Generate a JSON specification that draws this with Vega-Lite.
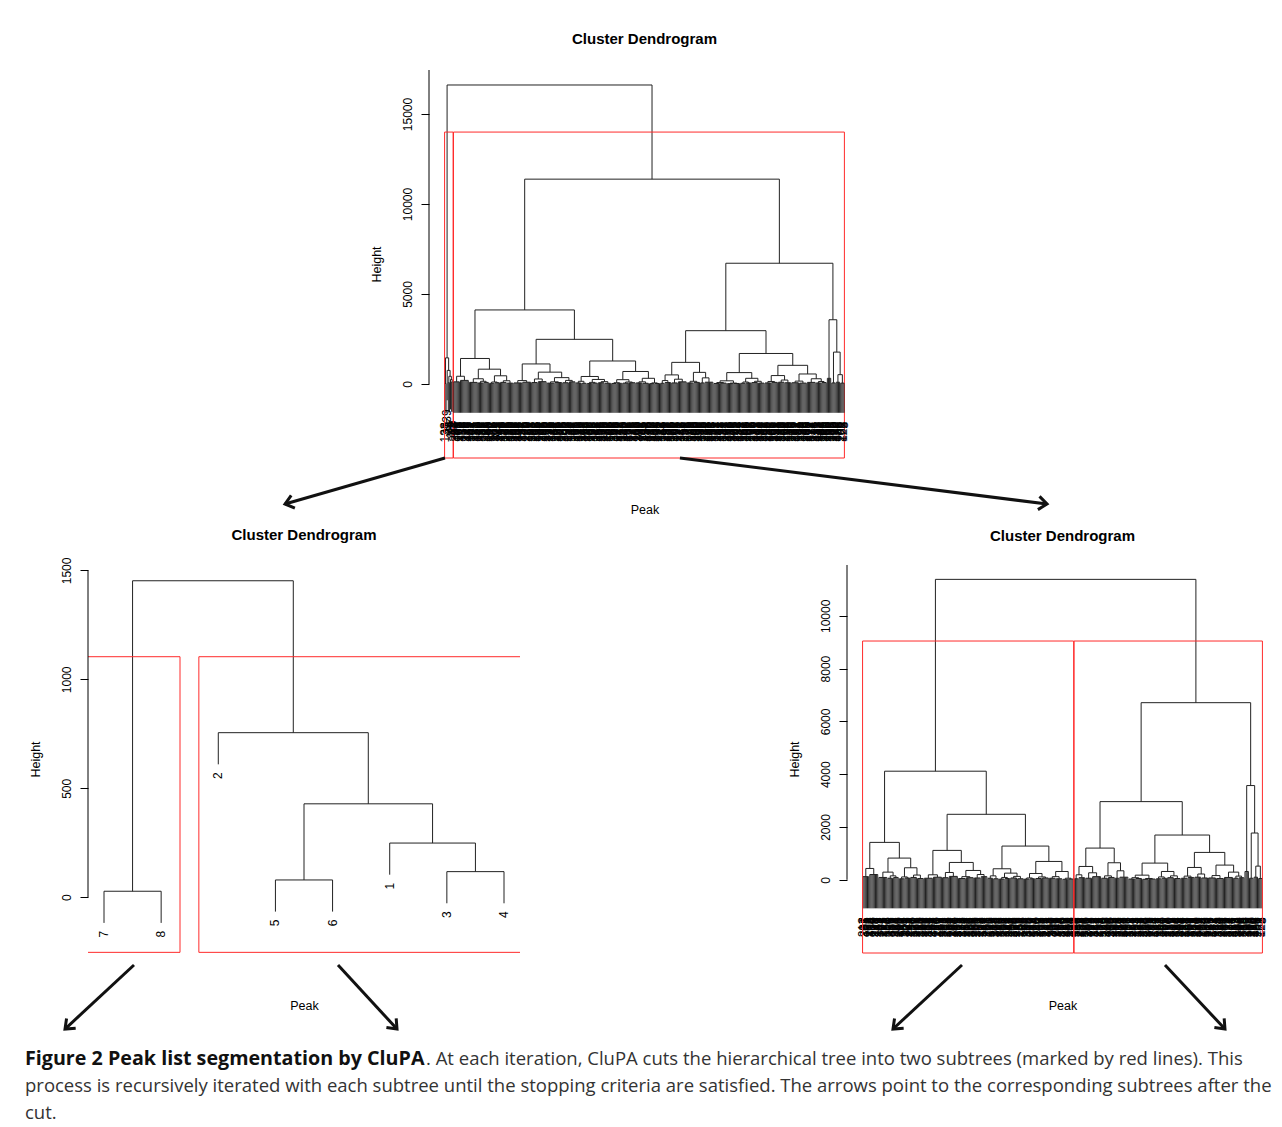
{
"$schema":"https://vega.github.io/schema/vega-lite/v6.json",
"background":"white",
"padding":{"left":25,"top":31,"right":4,"bottom":4},
"spacing":11,
"bounds":"full",
"datasets":{
"sm_m":[
{"a":1,"b":2,"h":27.5,"ha":27.5,"hb":27.5},
{"a":4,"b":5,"h":79.3,"ha":79.3,"hb":79.3},
{"a":7,"b":8,"h":117.5,"ha":117.5,"hb":117.5},
{"a":6,"b":7.5,"h":248.7,"ha":248.7,"hb":117.5},
{"a":4.5,"b":6.75,"h":428.8,"ha":79.3,"hb":248.7},
{"a":3,"b":5.625,"h":755.3,"ha":755.3,"hb":428.8},
{"a":1.5,"b":4.3125,"h":1452.7,"ha":27.5,"hb":755.3}
],
"top_m":[
{"a":1,"b":2,"h":27.5,"ha":27.5,"hb":27.5},
{"a":4,"b":5,"h":79.3,"ha":79.3,"hb":79.3},
{"a":7,"b":8,"h":117.5,"ha":117.5,"hb":117.5},
{"a":6,"b":7.5,"h":248.7,"ha":248.7,"hb":117.5},
{"a":4.5,"b":6.75,"h":428.8,"ha":79.3,"hb":248.7},
{"a":3,"b":5.625,"h":755.3,"ha":755.3,"hb":428.8},
{"a":1.5,"b":4.3125,"h":1452.7,"ha":27.5,"hb":755.3},
{"a":2.90625,"b":187.2734,"h":16611,"ha":1452.7,"hb":11380}
],
"sm_l":[
{"i":1,"h":27.5,"e":-117.8,"et":-1633.5,"l":"7","lt":"138"},
{"i":2,"h":27.5,"e":-117.8,"et":-1633.5,"l":"8","lt":"27"},
{"i":3,"h":755.3,"e":610,"et":-905.7,"l":"2","lt":"139"},
{"i":4,"h":79.3,"e":-66,"et":-1581.7,"l":"5","lt":"23"},
{"i":5,"h":79.3,"e":-66,"et":-1581.7,"l":"6","lt":"24"},
{"i":6,"h":248.7,"e":103.4,"et":-1412.3,"l":"1","lt":"137"},
{"i":7,"h":117.5,"e":-27.8,"et":-1543.5,"l":"3","lt":"25"},
{"i":8,"h":117.5,"e":-27.8,"et":-1543.5,"l":"4","lt":"26"}
],
"bt_m":[
{"a":1,"b":6,"h":120,"ha":120,"hb":120},
{"a":7,"b":14,"h":200,"ha":200,"hb":200},
{"a":15,"b":22,"h":90,"ha":90,"hb":90},
{"a":23,"b":27,"h":60,"ha":60,"hb":60},
{"a":28,"b":32,"h":90,"ha":90,"hb":90},
{"a":25,"b":30,"h":150,"ha":60,"hb":90},
{"a":33,"b":37,"h":40,"ha":40,"hb":40},
{"a":38,"b":42,"h":70,"ha":70,"hb":70},
{"a":35,"b":40,"h":110,"ha":40,"hb":70},
{"a":43,"b":48,"h":90,"ha":90,"hb":90},
{"a":49,"b":54,"h":50,"ha":50,"hb":50},
{"a":45.5,"b":51.5,"h":180,"ha":90,"hb":50},
{"a":55,"b":62,"h":60,"ha":60,"hb":60},
{"a":63,"b":70,"h":100,"ha":100,"hb":100},
{"a":71,"b":76,"h":80,"ha":80,"hb":80},
{"a":77,"b":84,"h":130,"ha":130,"hb":130},
{"a":85,"b":91,"h":50,"ha":50,"hb":50},
{"a":92,"b":98,"h":80,"ha":80,"hb":80},
{"a":88,"b":95,"h":120,"ha":50,"hb":80},
{"a":99,"b":104,"h":70,"ha":70,"hb":70},
{"a":105,"b":110,"h":120,"ha":120,"hb":120},
{"a":101.5,"b":107.5,"h":200,"ha":70,"hb":120},
{"a":111,"b":115,"h":60,"ha":60,"hb":60},
{"a":116,"b":120,"h":40,"ha":40,"hb":40},
{"a":113,"b":118,"h":150,"ha":60,"hb":40},
{"a":121,"b":125,"h":30,"ha":30,"hb":30},
{"a":126,"b":130,"h":50,"ha":50,"hb":50},
{"a":123,"b":128,"h":90,"ha":30,"hb":50},
{"a":131,"b":136,"h":70,"ha":70,"hb":70},
{"a":137,"b":142,"h":40,"ha":40,"hb":40},
{"a":133.5,"b":139.5,"h":130,"ha":70,"hb":40},
{"a":143,"b":147,"h":30,"ha":30,"hb":30},
{"a":148,"b":152,"h":40,"ha":40,"hb":40},
{"a":145,"b":150,"h":70,"ha":30,"hb":40},
{"a":153,"b":158,"h":50,"ha":50,"hb":50},
{"a":159,"b":164,"h":70,"ha":70,"hb":70},
{"a":155.5,"b":161.5,"h":110,"ha":50,"hb":70},
{"a":165,"b":170,"h":60,"ha":60,"hb":60},
{"a":171,"b":176,"h":40,"ha":40,"hb":40},
{"a":167.5,"b":173.5,"h":120,"ha":60,"hb":40},
{"a":177,"b":181,"h":20,"ha":20,"hb":20},
{"a":182,"b":186,"h":30,"ha":30,"hb":30},
{"a":179,"b":184,"h":60,"ha":20,"hb":30},
{"a":187,"b":190,"h":40,"ha":40,"hb":40},
{"a":191,"b":196,"h":80,"ha":80,"hb":80},
{"a":197,"b":202,"h":60,"ha":60,"hb":60},
{"a":203,"b":210,"h":120,"ha":120,"hb":120},
{"a":211,"b":216,"h":60,"ha":60,"hb":60},
{"a":217,"b":222,"h":90,"ha":90,"hb":90},
{"a":213.5,"b":219.5,"h":150,"ha":60,"hb":90},
{"a":223,"b":226,"h":60,"ha":60,"hb":60},
{"a":227,"b":234,"h":100,"ha":100,"hb":100},
{"a":235,"b":240,"h":30,"ha":30,"hb":30},
{"a":241,"b":246,"h":50,"ha":50,"hb":50},
{"a":237.5,"b":243.5,"h":80,"ha":30,"hb":50},
{"a":247,"b":252,"h":20,"ha":20,"hb":20},
{"a":253,"b":258,"h":30,"ha":30,"hb":30},
{"a":249.5,"b":255.5,"h":50,"ha":20,"hb":30},
{"a":259,"b":263,"h":40,"ha":40,"hb":40},
{"a":264,"b":268,"h":60,"ha":60,"hb":60},
{"a":261,"b":266,"h":110,"ha":40,"hb":60},
{"a":269,"b":274,"h":80,"ha":80,"hb":80},
{"a":275,"b":280,"h":50,"ha":50,"hb":50},
{"a":271.5,"b":277.5,"h":150,"ha":80,"hb":50},
{"a":281,"b":286,"h":60,"ha":60,"hb":60},
{"a":287,"b":292,"h":90,"ha":90,"hb":90},
{"a":283.5,"b":289.5,"h":140,"ha":60,"hb":90},
{"a":293,"b":298,"h":100,"ha":100,"hb":100},
{"a":299,"b":304,"h":70,"ha":70,"hb":70},
{"a":295.5,"b":301.5,"h":220,"ha":100,"hb":70},
{"a":305,"b":311,"h":70,"ha":70,"hb":70},
{"a":312,"b":318,"h":50,"ha":50,"hb":50},
{"a":308,"b":315,"h":160,"ha":70,"hb":50},
{"a":319,"b":326,"h":90,"ha":90,"hb":90},
{"a":327,"b":331,"h":60,"ha":60,"hb":60},
{"a":332,"b":336,"h":80,"ha":80,"hb":80},
{"a":329,"b":334,"h":140,"ha":60,"hb":80},
{"a":337,"b":340,"h":316,"ha":316,"hb":316},
{"a":341,"b":344,"h":60,"ha":60,"hb":60},
{"a":345,"b":348,"h":100,"ha":100,"hb":100},
{"a":349,"b":352,"h":50,"ha":50,"hb":50},
{"a":3.5,"b":10.5,"h":430,"ha":120,"hb":200},
{"a":18.5,"b":27.5,"h":291,"ha":90,"hb":150},
{"a":37.5,"b":48.5,"h":456,"ha":110,"hb":180},
{"a":23,"b":43,"h":823,"ha":291,"hb":456},
{"a":7,"b":33,"h":1418,"ha":430,"hb":823},
{"a":58.5,"b":66.5,"h":190,"ha":60,"hb":100},
{"a":73.5,"b":80.5,"h":278,"ha":80,"hb":130},
{"a":91.5,"b":104.5,"h":354,"ha":120,"hb":200},
{"a":77,"b":98,"h":658,"ha":278,"hb":354},
{"a":62.5,"b":87.5,"h":1114,"ha":190,"hb":658},
{"a":125.5,"b":136.5,"h":253,"ha":90,"hb":130},
{"a":115.5,"b":131,"h":418,"ha":150,"hb":253},
{"a":147.5,"b":158.5,"h":240,"ha":70,"hb":110},
{"a":170.5,"b":181.5,"h":316,"ha":120,"hb":60},
{"a":153,"b":176,"h":696,"ha":240,"hb":316},
{"a":123.25,"b":164.5,"h":1278,"ha":418,"hb":696},
{"a":75,"b":143.875,"h":2481,"ha":1114,"hb":1278},
{"a":20,"b":109.4375,"h":4114,"ha":1418,"hb":2481},
{"a":188.5,"b":193.5,"h":190,"ha":40,"hb":80},
{"a":199.5,"b":206.5,"h":266,"ha":60,"hb":120},
{"a":191,"b":203,"h":506,"ha":190,"hb":266},
{"a":224.5,"b":230.5,"h":342,"ha":60,"hb":100},
{"a":216.5,"b":227.5,"h":646,"ha":150,"hb":342},
{"a":197,"b":222,"h":1202,"ha":506,"hb":646},
{"a":240.5,"b":252.5,"h":177,"ha":80,"hb":50},
{"a":263.5,"b":274.5,"h":316,"ha":110,"hb":150},
{"a":246.5,"b":269,"h":633,"ha":177,"hb":316},
{"a":286.5,"b":298.5,"h":468,"ha":140,"hb":220},
{"a":322.5,"b":331.5,"h":291,"ha":90,"hb":140},
{"a":311.5,"b":327,"h":557,"ha":160,"hb":291},
{"a":292.5,"b":319.25,"h":1038,"ha":468,"hb":557},
{"a":257.75,"b":305.875,"h":1696,"ha":633,"hb":1038},
{"a":209.5,"b":281.8125,"h":2962,"ha":1202,"hb":1696},
{"a":346.5,"b":350.5,"h":519,"ha":100,"hb":50},
{"a":342.5,"b":348.5,"h":1772,"ha":60,"hb":519},
{"a":338.5,"b":345.5,"h":3570,"ha":316,"hb":1772},
{"a":245.65625,"b":342,"h":6709,"ha":2962,"hb":3570},
{"a":64.71875,"b":293.828125,"h":11380,"ha":4114,"hb":6709}
],
"bt_l":[
{"i":1,"h":120,"l":212},{"i":2,"h":120,"l":87},{"i":3,"h":120,"l":301},{"i":4,"h":120,"l":45},{"i":5,"h":120,"l":178},{"i":6,"h":120,"l":263},
{"i":7,"h":200,"l":9},{"i":8,"h":200,"l":334},{"i":9,"h":200,"l":156},{"i":10,"h":200,"l":72},{"i":11,"h":200,"l":290},{"i":12,"h":200,"l":118},{"i":13,"h":200,"l":241},{"i":14,"h":200,"l":33},
{"i":15,"h":90,"l":199},{"i":16,"h":90,"l":347},{"i":17,"h":90,"l":64},{"i":18,"h":90,"l":127},{"i":19,"h":90,"l":275},{"i":20,"h":90,"l":181},{"i":21,"h":90,"l":52},{"i":22,"h":90,"l":316},
{"i":23,"h":60,"l":140},{"i":24,"h":60,"l":229},{"i":25,"h":60,"l":96},{"i":26,"h":60,"l":358},{"i":27,"h":60,"l":17},
{"i":28,"h":90,"l":203},{"i":29,"h":90,"l":111},{"i":30,"h":90,"l":284},{"i":31,"h":90,"l":69},{"i":32,"h":90,"l":245},
{"i":33,"h":40,"l":150},{"i":34,"h":40,"l":327},{"i":35,"h":40,"l":38},{"i":36,"h":40,"l":186},{"i":37,"h":40,"l":259},
{"i":38,"h":70,"l":104},{"i":39,"h":70,"l":311},{"i":40,"h":70,"l":75},{"i":41,"h":70,"l":222},{"i":42,"h":70,"l":143},
{"i":43,"h":90,"l":298},{"i":44,"h":90,"l":56},{"i":45,"h":90,"l":170},{"i":46,"h":90,"l":337},{"i":47,"h":90,"l":121},{"i":48,"h":90,"l":266},
{"i":49,"h":50,"l":91},{"i":50,"h":50,"l":215},{"i":51,"h":50,"l":30},{"i":52,"h":50,"l":352},{"i":53,"h":50,"l":162},{"i":54,"h":50,"l":280},
{"i":55,"h":60,"l":48},{"i":56,"h":60,"l":193},{"i":57,"h":60,"l":237},{"i":58,"h":60,"l":114},{"i":59,"h":60,"l":306},{"i":60,"h":60,"l":81},{"i":61,"h":60,"l":254},{"i":62,"h":60,"l":133},
{"i":63,"h":100,"l":342},{"i":64,"h":100,"l":26},{"i":65,"h":100,"l":175},{"i":66,"h":100,"l":220},{"i":67,"h":100,"l":99},{"i":68,"h":100,"l":289},{"i":69,"h":100,"l":61},{"i":70,"h":100,"l":148},
{"i":71,"h":80,"l":323},{"i":72,"h":80,"l":207},{"i":73,"h":80,"l":12},{"i":74,"h":80,"l":268},{"i":75,"h":80,"l":135},{"i":76,"h":80,"l":355},
{"i":77,"h":130,"l":84},{"i":78,"h":130,"l":191},{"i":79,"h":130,"l":247},{"i":80,"h":130,"l":108},{"i":81,"h":130,"l":296},{"i":82,"h":130,"l":40},{"i":83,"h":130,"l":166},{"i":84,"h":130,"l":231},
{"i":85,"h":50,"l":318},{"i":86,"h":50,"l":73},{"i":87,"h":50,"l":258},{"i":88,"h":50,"l":125},{"i":89,"h":50,"l":344},{"i":90,"h":50,"l":19},{"i":91,"h":50,"l":184},
{"i":92,"h":80,"l":271},{"i":93,"h":80,"l":102},{"i":94,"h":80,"l":226},{"i":95,"h":80,"l":59},{"i":96,"h":80,"l":309},{"i":97,"h":80,"l":146},{"i":98,"h":80,"l":283},
{"i":99,"h":70,"l":36},{"i":100,"h":70,"l":201},{"i":101,"h":70,"l":340},{"i":102,"h":70,"l":93},{"i":103,"h":70,"l":257},{"i":104,"h":70,"l":129},
{"i":105,"h":120,"l":4},{"i":106,"h":120,"l":190},{"i":107,"h":120,"l":314},{"i":108,"h":120,"l":67},{"i":109,"h":120,"l":235},{"i":110,"h":120,"l":161},
{"i":111,"h":60,"l":286},{"i":112,"h":60,"l":21},{"i":113,"h":60,"l":173},{"i":114,"h":60,"l":330},{"i":115,"h":60,"l":115},
{"i":116,"h":40,"l":244},{"i":117,"h":40,"l":78},{"i":118,"h":40,"l":302},{"i":119,"h":40,"l":154},{"i":120,"h":40,"l":219},
{"i":121,"h":30,"l":47},{"i":122,"h":30,"l":350},{"i":123,"h":30,"l":138},{"i":124,"h":30,"l":262},{"i":125,"h":30,"l":89},
{"i":126,"h":50,"l":196},{"i":127,"h":50,"l":321},{"i":128,"h":50,"l":14},{"i":129,"h":50,"l":248},{"i":130,"h":50,"l":167},
{"i":131,"h":70,"l":294},{"i":132,"h":70,"l":53},{"i":133,"h":70,"l":209},{"i":134,"h":70,"l":336},{"i":135,"h":70,"l":119},{"i":136,"h":70,"l":276},
{"i":137,"h":40,"l":85},{"i":138,"h":40,"l":232},{"i":139,"h":40,"l":157},{"i":140,"h":40,"l":29},{"i":141,"h":40,"l":305},{"i":142,"h":40,"l":180},
{"i":143,"h":30,"l":63},{"i":144,"h":30,"l":252},{"i":145,"h":30,"l":126},{"i":146,"h":30,"l":345},{"i":147,"h":30,"l":98},
{"i":148,"h":40,"l":217},{"i":149,"h":40,"l":279},{"i":150,"h":40,"l":42},{"i":151,"h":40,"l":164},{"i":152,"h":40,"l":328},
{"i":153,"h":50,"l":110},{"i":154,"h":50,"l":240},{"i":155,"h":50,"l":7},{"i":156,"h":50,"l":292},{"i":157,"h":50,"l":136},{"i":158,"h":50,"l":198},
{"i":159,"h":70,"l":357},{"i":160,"h":70,"l":71},{"i":161,"h":70,"l":225},{"i":162,"h":70,"l":149},{"i":163,"h":70,"l":313},{"i":164,"h":70,"l":35},
{"i":165,"h":60,"l":188},{"i":166,"h":60,"l":267},{"i":167,"h":60,"l":100},{"i":168,"h":60,"l":339},{"i":169,"h":60,"l":58},{"i":170,"h":60,"l":211},
{"i":171,"h":40,"l":145},{"i":172,"h":40,"l":299},{"i":173,"h":40,"l":24},{"i":174,"h":40,"l":253},{"i":175,"h":40,"l":172},{"i":176,"h":40,"l":326},
{"i":177,"h":20,"l":90},{"i":178,"h":20,"l":238},{"i":179,"h":20,"l":117},{"i":180,"h":20,"l":287},{"i":181,"h":20,"l":50},
{"i":182,"h":30,"l":204},{"i":183,"h":30,"l":348},{"i":184,"h":30,"l":131},{"i":185,"h":30,"l":270},{"i":186,"h":30,"l":11},
{"i":187,"h":40,"l":183},{"i":188,"h":40,"l":317},{"i":189,"h":40,"l":66},{"i":190,"h":40,"l":249},
{"i":191,"h":80,"l":152},{"i":192,"h":80,"l":293},{"i":193,"h":80,"l":39},{"i":194,"h":80,"l":227},{"i":195,"h":80,"l":106},{"i":196,"h":80,"l":335},
{"i":197,"h":60,"l":79},{"i":198,"h":60,"l":260},{"i":199,"h":60,"l":141},{"i":200,"h":60,"l":308},{"i":201,"h":60,"l":27},{"i":202,"h":60,"l":195},
{"i":203,"h":120,"l":272},{"i":204,"h":120,"l":123},{"i":205,"h":120,"l":349},{"i":206,"h":120,"l":57},{"i":207,"h":120,"l":214},{"i":208,"h":120,"l":159},{"i":209,"h":120,"l":282},{"i":210,"h":120,"l":2},
{"i":211,"h":60,"l":176},{"i":212,"h":60,"l":320},{"i":213,"h":60,"l":95},{"i":214,"h":60,"l":243},{"i":215,"h":60,"l":132},{"i":216,"h":60,"l":300},
{"i":217,"h":90,"l":46},{"i":218,"h":90,"l":205},{"i":219,"h":90,"l":360},{"i":220,"h":90,"l":112},{"i":221,"h":90,"l":265},{"i":222,"h":90,"l":83},
{"i":223,"h":60,"l":189},{"i":224,"h":60,"l":325},{"i":225,"h":60,"l":16},{"i":226,"h":60,"l":234},
{"i":227,"h":100,"l":151},{"i":228,"h":100,"l":278},{"i":229,"h":100,"l":68},{"i":230,"h":100,"l":218},{"i":231,"h":100,"l":341},{"i":232,"h":100,"l":103},{"i":233,"h":100,"l":256},{"i":234,"h":100,"l":37},
{"i":235,"h":30,"l":171},{"i":236,"h":30,"l":312},{"i":237,"h":30,"l":128},{"i":238,"h":30,"l":251},{"i":239,"h":30,"l":92},{"i":240,"h":30,"l":295},
{"i":241,"h":50,"l":54},{"i":242,"h":50,"l":197},{"i":243,"h":50,"l":331},{"i":244,"h":50,"l":144},{"i":245,"h":50,"l":273},{"i":246,"h":50,"l":22},
{"i":247,"h":20,"l":208},{"i":248,"h":20,"l":353},{"i":249,"h":20,"l":116},{"i":250,"h":20,"l":239},{"i":251,"h":20,"l":76},{"i":252,"h":20,"l":303},
{"i":253,"h":30,"l":165},{"i":254,"h":30,"l":285},{"i":255,"h":30,"l":41},{"i":256,"h":30,"l":223},{"i":257,"h":30,"l":134},{"i":258,"h":30,"l":319},
{"i":259,"h":40,"l":8},{"i":260,"h":40,"l":182},{"i":261,"h":40,"l":261},{"i":262,"h":40,"l":97},{"i":263,"h":40,"l":343},
{"i":264,"h":60,"l":160},{"i":265,"h":60,"l":230},{"i":266,"h":60,"l":31},{"i":267,"h":60,"l":192},{"i":268,"h":60,"l":297},
{"i":269,"h":80,"l":70},{"i":270,"h":80,"l":250},{"i":271,"h":80,"l":139},{"i":272,"h":80,"l":322},{"i":273,"h":80,"l":15},{"i":274,"h":80,"l":213},
{"i":275,"h":50,"l":107},{"i":276,"h":50,"l":354},{"i":277,"h":50,"l":86},{"i":278,"h":50,"l":242},{"i":279,"h":50,"l":168},{"i":280,"h":50,"l":307},
{"i":281,"h":60,"l":44},{"i":282,"h":60,"l":216},{"i":283,"h":60,"l":281},{"i":284,"h":60,"l":124},{"i":285,"h":60,"l":338},{"i":286,"h":60,"l":62},
{"i":287,"h":90,"l":187},{"i":288,"h":90,"l":269},{"i":289,"h":90,"l":101},{"i":290,"h":90,"l":329},{"i":291,"h":90,"l":153},{"i":292,"h":90,"l":224},
{"i":293,"h":100,"l":28},{"i":294,"h":100,"l":291},{"i":295,"h":100,"l":120},{"i":296,"h":100,"l":346},{"i":297,"h":100,"l":74},{"i":298,"h":100,"l":202},
{"i":299,"h":70,"l":158},{"i":300,"h":70,"l":264},{"i":301,"h":70,"l":3},{"i":302,"h":70,"l":179},{"i":303,"h":70,"l":315},{"i":304,"h":70,"l":109},
{"i":305,"h":70,"l":236},{"i":306,"h":70,"l":65},{"i":307,"h":70,"l":277},{"i":308,"h":70,"l":142},{"i":309,"h":70,"l":351},{"i":310,"h":70,"l":23},{"i":311,"h":70,"l":194},
{"i":312,"h":50,"l":255},{"i":313,"h":50,"l":94},{"i":314,"h":50,"l":332},{"i":315,"h":50,"l":130},{"i":316,"h":50,"l":246},{"i":317,"h":50,"l":51},{"i":318,"h":50,"l":288},
{"i":319,"h":90,"l":169},{"i":320,"h":90,"l":210},{"i":321,"h":90,"l":77},{"i":322,"h":90,"l":324},{"i":323,"h":90,"l":137},{"i":324,"h":90,"l":274},{"i":325,"h":90,"l":18},{"i":326,"h":90,"l":221},
{"i":327,"h":60,"l":359},{"i":328,"h":60,"l":113},{"i":329,"h":60,"l":233},{"i":330,"h":60,"l":82},{"i":331,"h":60,"l":304},
{"i":332,"h":80,"l":147},{"i":333,"h":80,"l":200},{"i":334,"h":80,"l":43},{"i":335,"h":80,"l":310},{"i":336,"h":80,"l":163},
{"i":337,"h":316,"l":255},{"i":338,"h":316,"l":60},{"i":339,"h":316,"l":185},{"i":340,"h":316,"l":333},
{"i":341,"h":60,"l":105},{"i":342,"h":60,"l":228},{"i":343,"h":60,"l":10},{"i":344,"h":60,"l":290},
{"i":345,"h":100,"l":174},{"i":346,"h":100,"l":356},{"i":347,"h":100,"l":88},{"i":348,"h":100,"l":206},
{"i":349,"h":50,"l":1},{"i":350,"h":50,"l":268},{"i":351,"h":50,"l":122},{"i":352,"h":50,"l":5}
],
"top_box":[{"x":0.66,"x2":8.33,"y":-4111,"y2":13995.5},{"x":8.66,"x2":360.33,"y":-4111,"y2":13995.5}],
"bl_box":[{"x":0.66,"x2":2.33,"y":-253,"y2":1104},{"x":2.66,"x2":8.33,"y":-253,"y2":1104}],
"br_box":[{"x":0.66,"x2":186.33,"y":-2772,"y2":9044.5},{"x":186.66,"x2":352.33,"y":-2772,"y2":9044.5}],
"top_axis":[{"y":0,"y2":17444}],
"bl_axis":[{"y":0,"y2":1500}],
"br_axis":[{"y":0,"y2":11924}],
"top_arrow":[{"x":1.03,"y":-4111,"x2":-142.9,"y2":-6667,"dir":"left"},{"x":212.4,"y":-4111,"x2":542.6,"y2":-6667,"dir":"right"}],
"bl_arrow":[{"x":1.525,"y":-311,"x2":0.3175,"y2":-605,"dir":"left"},{"x":5.095,"y":-311,"x2":6.1275,"y2":-605,"dir":"right"}],
"br_arrow":[{"x":88.1,"y":-3227,"x2":27.4,"y2":-5651,"dir":"left"},{"x":266.65,"y":-3227,"x2":319.4,"y2":-5651,"dir":"right"}],
"caption":[
{"line":1,"seg":"bold","text":"Figure 2 Peak list segmentation by CluPA"},
{"line":1,"seg":"tail","text":". At each iteration, CluPA cuts the hierarchical tree into two subtrees (marked by red lines). This"},
{"line":2,"seg":"body","text":"process is recursively iterated with each subtree until the stopping criteria are satisfied. The arrows point to the corresponding subtrees after the"},
{"line":3,"seg":"body","text":"cut."}
]
},
"vconcat":[
{"hconcat":[
 {"width":1,"height":1,"data":{"values":[]},"mark":"point"},
 {"width":431,"height":388,"title":"Cluster Dendrogram",
  "layer":[
   {"layer":[
    {"data":{"name":"top_m"},"mark":{"type":"rule","color":"#222","strokeWidth":1},
     "encoding":{"x":{"field":"a","type":"quantitative","scale":{"domain":[-13.36,374.36],"nice":false,"zero":false},"axis":{"title":"Peak"}},"x2":{"field":"b"},
      "y":{"field":"h","type":"quantitative","scale":{"domain":[-4111,17444],"nice":false,"zero":false},"axis":{"title":"Height","values":[0,5000,10000,15000],"format":"d"}}}},
    {"data":{"name":"top_m"},"mark":{"type":"rule","color":"#222","strokeWidth":1},
     "encoding":{"x":{"field":"a","type":"quantitative"},"y":{"field":"ha","type":"quantitative"},"y2":{"field":"h"}}},
    {"data":{"name":"top_m"},"mark":{"type":"rule","color":"#222","strokeWidth":1},
     "encoding":{"x":{"field":"b","type":"quantitative"},"y":{"field":"hb","type":"quantitative"},"y2":{"field":"h"}}},
    {"data":{"name":"sm_l"},"mark":{"type":"rule","color":"#222","strokeWidth":1},
     "encoding":{"x":{"field":"i","type":"quantitative"},"y":{"field":"h","type":"quantitative"},"y2":{"field":"et"}}},
    {"data":{"name":"sm_l"},"mark":{"type":"text","angle":270,"align":"right","baseline":"middle","dx":-9,"font":"Liberation Sans","fontSize":12,"color":"#000"},
     "encoding":{"x":{"field":"i","type":"quantitative"},"y":{"field":"et","type":"quantitative"},"text":{"field":"lt"}}},
    {"data":{"name":"top_box"},"mark":{"type":"rect","filled":false,"color":"#ff2b2b","strokeWidth":1},
     "encoding":{"x":{"field":"x","type":"quantitative"},"x2":{"field":"x2"},"y":{"field":"y","type":"quantitative"},"y2":{"field":"y2"}}},
    {"data":{"name":"top_axis"},"mark":{"type":"rule","color":"#000","strokeWidth":1},
     "encoding":{"x":{"datum":-13.36},"y":{"field":"y","type":"quantitative"},"y2":{"field":"y2"}}},
    {"data":{"name":"top_arrow"},"mark":{"type":"rule","color":"#111","strokeWidth":3},
     "encoding":{"x":{"field":"x","type":"quantitative"},"x2":{"field":"x2"},"y":{"field":"y","type":"quantitative"},"y2":{"field":"y2"}}},
    {"data":{"name":"top_arrow"},"transform":[{"filter":"datum.dir == 'left'"}],"mark":{"type":"point","shape":"M-1,-0.8L0,0L-1,0.8","filled":false,"color":"#111","strokeWidth":3,"size":280,"opacity":1,"angle":164},
     "encoding":{"x":{"field":"x2","type":"quantitative"},"y":{"field":"y2","type":"quantitative"}}},
    {"data":{"name":"top_arrow"},"transform":[{"filter":"datum.dir == 'right'"}],"mark":{"type":"point","shape":"M-1,-0.8L0,0L-1,0.8","filled":false,"color":"#111","strokeWidth":3,"size":280,"opacity":1,"angle":7},
     "encoding":{"x":{"field":"x2","type":"quantitative"},"y":{"field":"y2","type":"quantitative"}}}
   ]},
   {"layer":[
    {"data":{"name":"bt_m"},"mark":{"type":"rule","color":"#222","strokeWidth":1},
     "encoding":{"x":{"field":"a","type":"quantitative","scale":{"domain":[-21.36,366.36],"nice":false,"zero":false},"axis":null},"x2":{"field":"b"},"y":{"field":"h","type":"quantitative"}}},
    {"data":{"name":"bt_m"},"mark":{"type":"rule","color":"#222","strokeWidth":1},
     "encoding":{"x":{"field":"a","type":"quantitative","axis":null},"y":{"field":"ha","type":"quantitative"},"y2":{"field":"h"}}},
    {"data":{"name":"bt_m"},"mark":{"type":"rule","color":"#222","strokeWidth":1},
     "encoding":{"x":{"field":"b","type":"quantitative","axis":null},"y":{"field":"hb","type":"quantitative"},"y2":{"field":"h"}}},
    {"data":{"name":"bt_l"},"mark":{"type":"rule","color":"#222","strokeWidth":1},
     "encoding":{"x":{"field":"i","type":"quantitative","axis":null},"y":{"field":"h","type":"quantitative"},"y2":{"datum":-1600}}},
    {"data":{"name":"bt_l"},"mark":{"type":"text","angle":270,"align":"right","baseline":"middle","dx":-9,"font":"Liberation Sans","fontSize":12,"color":"#000"},
     "encoding":{"x":{"field":"i","type":"quantitative","axis":null},"y":{"datum":-1600},"text":{"field":"l","type":"nominal"}}}
   ]}
  ],
  "resolve":{"scale":{"x":"independent"}}
 }
],"spacing":403,"bounds":"flush"},
{"hconcat":[
 {"width":1,"height":1,"data":{"values":[]},"mark":"point"},
 {"hconcat":[
  {"width":432,"height":388,"title":{"text":"Cluster Dendrogram","offset":14.5},
   "layer":[
    {"data":{"name":"sm_m"},"mark":{"type":"rule","color":"#222","strokeWidth":1},
     "encoding":{"x":{"field":"a","type":"quantitative","scale":{"domain":[0.72,8.28],"nice":false,"zero":false},"axis":{"title":"Peak","titlePadding":46.5}},"x2":{"field":"b"},
      "y":{"field":"h","type":"quantitative","scale":{"domain":[-256,1525],"nice":false,"zero":false},"axis":{"title":"Height","values":[0,500,1000,1500],"format":"d"}}}},
    {"data":{"name":"sm_m"},"mark":{"type":"rule","color":"#222","strokeWidth":1},
     "encoding":{"x":{"field":"a","type":"quantitative"},"y":{"field":"ha","type":"quantitative"},"y2":{"field":"h"}}},
    {"data":{"name":"sm_m"},"mark":{"type":"rule","color":"#222","strokeWidth":1},
     "encoding":{"x":{"field":"b","type":"quantitative"},"y":{"field":"hb","type":"quantitative"},"y2":{"field":"h"}}},
    {"data":{"name":"sm_l"},"mark":{"type":"rule","color":"#222","strokeWidth":1},
     "encoding":{"x":{"field":"i","type":"quantitative"},"y":{"field":"h","type":"quantitative"},"y2":{"field":"e"}}},
    {"data":{"name":"sm_l"},"mark":{"type":"text","angle":270,"align":"right","baseline":"middle","dx":-8,"font":"Liberation Sans","fontSize":12,"color":"#000"},
     "encoding":{"x":{"field":"i","type":"quantitative"},"y":{"field":"e","type":"quantitative"},"text":{"field":"l"}}},
    {"data":{"name":"bl_box"},"mark":{"type":"rect","filled":false,"color":"#ff2b2b","strokeWidth":1,"clip":true},
     "encoding":{"x":{"field":"x","type":"quantitative"},"x2":{"field":"x2"},"y":{"field":"y","type":"quantitative"},"y2":{"field":"y2"}}},
    {"data":{"name":"bl_axis"},"mark":{"type":"rule","color":"#000","strokeWidth":1},
     "encoding":{"x":{"datum":0.72},"y":{"field":"y","type":"quantitative"},"y2":{"field":"y2"}}},
    {"data":{"name":"bl_arrow"},"mark":{"type":"rule","color":"#111","strokeWidth":3},
     "encoding":{"x":{"field":"x","type":"quantitative"},"x2":{"field":"x2"},"y":{"field":"y","type":"quantitative"},"y2":{"field":"y2"}}},
    {"data":{"name":"bl_arrow"},"transform":[{"filter":"datum.dir == 'left'"}],"mark":{"type":"point","shape":"M-1,-0.8L0,0L-1,0.8","filled":false,"color":"#111","strokeWidth":3,"size":280,"opacity":1,"angle":137},
     "encoding":{"x":{"field":"x2","type":"quantitative"},"y":{"field":"y2","type":"quantitative"}}},
    {"data":{"name":"bl_arrow"},"transform":[{"filter":"datum.dir == 'right'"}],"mark":{"type":"point","shape":"M-1,-0.8L0,0L-1,0.8","filled":false,"color":"#111","strokeWidth":3,"size":280,"opacity":1,"angle":47},
     "encoding":{"x":{"field":"x2","type":"quantitative"},"y":{"field":"y2","type":"quantitative"}}}
   ]},
  {"width":431,"height":388,"title":{"text":"Cluster Dendrogram","offset":21},
   "layer":[
    {"data":{"name":"bt_m"},"mark":{"type":"rule","color":"#222","strokeWidth":1},
     "encoding":{"x":{"field":"a","type":"quantitative","scale":{"domain":[-13.04,366.04],"nice":false,"zero":false},"axis":{"title":"Peak","titlePadding":46.5}},"x2":{"field":"b"},
      "y":{"field":"h","type":"quantitative","scale":{"domain":[-2772,11924],"nice":false,"zero":false},"axis":{"title":"Height","values":[0,2000,4000,6000,8000,10000],"format":"d"}}}},
    {"data":{"name":"bt_m"},"mark":{"type":"rule","color":"#222","strokeWidth":1},
     "encoding":{"x":{"field":"a","type":"quantitative"},"y":{"field":"ha","type":"quantitative"},"y2":{"field":"h"}}},
    {"data":{"name":"bt_m"},"mark":{"type":"rule","color":"#222","strokeWidth":1},
     "encoding":{"x":{"field":"b","type":"quantitative"},"y":{"field":"hb","type":"quantitative"},"y2":{"field":"h"}}},
    {"data":{"name":"bt_l"},"mark":{"type":"rule","color":"#222","strokeWidth":1},
     "encoding":{"x":{"field":"i","type":"quantitative"},"y":{"field":"h","type":"quantitative"},"y2":{"datum":-1080}}},
    {"data":{"name":"bt_l"},"mark":{"type":"text","angle":270,"align":"right","baseline":"middle","dx":-9,"font":"Liberation Sans","fontSize":12,"color":"#000"},
     "encoding":{"x":{"field":"i","type":"quantitative"},"y":{"datum":-1080},"text":{"field":"l","type":"nominal"}}},
    {"data":{"name":"br_box"},"mark":{"type":"rect","filled":false,"color":"#ff2b2b","strokeWidth":1},
     "encoding":{"x":{"field":"x","type":"quantitative"},"x2":{"field":"x2"},"y":{"field":"y","type":"quantitative"},"y2":{"field":"y2"}}},
    {"data":{"name":"br_axis"},"mark":{"type":"rule","color":"#000","strokeWidth":1},
     "encoding":{"x":{"datum":-13.04},"y":{"field":"y","type":"quantitative"},"y2":{"field":"y2"}}},
    {"data":{"name":"br_arrow"},"mark":{"type":"rule","color":"#111","strokeWidth":3},
     "encoding":{"x":{"field":"x","type":"quantitative"},"x2":{"field":"x2"},"y":{"field":"y","type":"quantitative"},"y2":{"field":"y2"}}},
    {"data":{"name":"br_arrow"},"transform":[{"filter":"datum.dir == 'left'"}],"mark":{"type":"point","shape":"M-1,-0.8L0,0L-1,0.8","filled":false,"color":"#111","strokeWidth":3,"size":280,"opacity":1,"angle":137},
     "encoding":{"x":{"field":"x2","type":"quantitative"},"y":{"field":"y2","type":"quantitative"}}},
    {"data":{"name":"br_arrow"},"transform":[{"filter":"datum.dir == 'right'"}],"mark":{"type":"point","shape":"M-1,-0.8L0,0L-1,0.8","filled":false,"color":"#111","strokeWidth":3,"size":280,"opacity":1,"angle":47},
     "encoding":{"x":{"field":"x2","type":"quantitative"},"y":{"field":"y2","type":"quantitative"}}}
   ]}
 ],"spacing":327,"bounds":"flush"}
],"spacing":62,"bounds":"flush"},
{"width":1253,"height":90,"data":{"name":"caption"},
 "layer":[
  {"transform":[{"filter":"datum.seg == 'bold'"}],"mark":{"type":"text","align":"left","baseline":"alphabetic","font":"Open Sans","fontSize":19.7,"fontWeight":"bold","color":"#111"},
   "encoding":{"x":{"value":0},"y":{"field":"line","type":"ordinal","scale":{"type":"point","padding":0.667},"axis":null},"text":{"field":"text"}}},
  {"transform":[{"filter":"datum.seg == 'tail'"}],"mark":{"type":"text","align":"left","baseline":"alphabetic","font":"Open Sans","fontSize":18.5,"color":"#333","dx":401},
   "encoding":{"x":{"value":0},"y":{"field":"line","type":"ordinal","axis":null},"text":{"field":"text"}}},
  {"transform":[{"filter":"datum.seg == 'body'"}],"mark":{"type":"text","align":"left","baseline":"alphabetic","font":"Open Sans","fontSize":18.5,"color":"#333"},
   "encoding":{"x":{"value":0},"y":{"field":"line","type":"ordinal","axis":null},"text":{"field":"text"}}}
 ]}
],
"config":{
 "view":{"stroke":null},
 "font":"Liberation Sans",
 "title":{"font":"Liberation Sans","fontSize":15,"fontWeight":"bold","color":"#000","offset":23,"frame":"group","anchor":"middle"},
 "axis":{"grid":false,"labelFont":"Liberation Sans","labelFontSize":12,"labelColor":"#000","titleFont":"Liberation Sans","titleFontSize":12.5,"titleFontWeight":"normal","titleColor":"#000","tickColor":"#000","tickWidth":1,"tickSize":8,"labelOverlap":false},
 "axisY":{"domain":false,"labelAngle":270,"labelAlign":"center","labelBaseline":"bottom","labelPadding":7,"titlePadding":18},
 "axisX":{"domain":false,"labels":false,"ticks":false,"titlePadding":45}
}
}
